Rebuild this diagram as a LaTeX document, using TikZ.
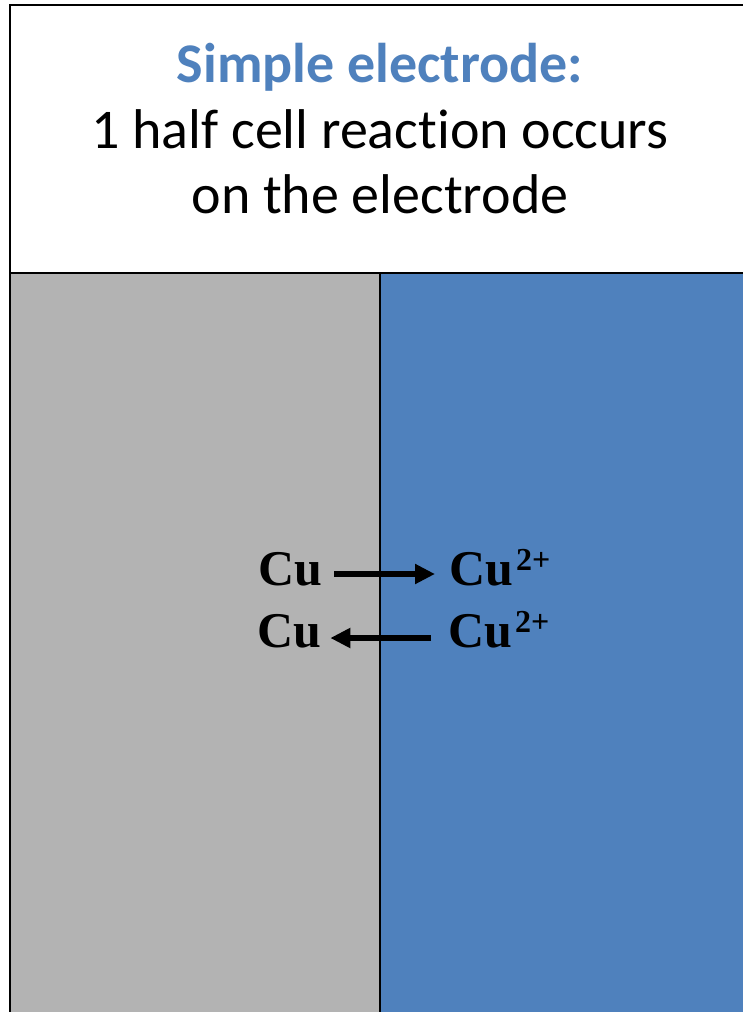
\documentclass[tikz,border=0pt]{standalone}
\usepackage{fontspec}
\usepackage{xcolor}
\setmainfont{Carlito}[Ligatures={NoCommon}]
\newfontfamily\timesbf{Liberation Serif}[UprightFont=* Bold]
\definecolor{electrodegray}{HTML}{B3B3B3}
\definecolor{solutionblue}{HTML}{4F81BD}
\usetikzlibrary{arrows.meta}
\newcommand{\ioncharge}[1]{\kern3pt\raisebox{15pt}{\fontsize{32}{32}\selectfont #1}}

\begin{document}
\begin{tikzpicture}[x=1pt, y=-1pt,
  species/.style={inner sep=0pt, font=\timesbf\fontsize{50}{52}\selectfont},
  rxnarrow/.style={line width=5.5pt, -{Triangle[length=20pt, width=19pt]}}]
  \useasboundingbox (0,0) rectangle (743,1012);
  \clip (0,0) rectangle (743,1012);
  % kop
  \draw[line width=1.6pt, fill=white] (10,5) rectangle (760,273);
  \node[anchor=base, text=solutionblue, font=\bfseries\fontsize{56}{66}\selectfont]
    (title) at (380,82) {Simple electrode:};
  \node[anchor=base, font=\fontsize{56}{66}\selectfont] (line1) at (380,148)
    {1 half cell reaction occurs};
  \node[anchor=base, font=\fontsize{56}{66}\selectfont] (line2) at (380,213)
    {on the electrode};
  % elektrode en oplossing
  \draw[line width=1.6pt, fill=electrodegray] (10,273) rectangle (380,1030);
  \draw[line width=1.6pt, fill=solutionblue] (380,273) rectangle (760,1030);
  % halfreactie
  \node[species, anchor=base west] (cuA) at (258,585) {Cu};
  \node[species, anchor=base west] (ionA) at (449,585) {Cu\ioncharge{2+}};
  \node[species, anchor=base west] (cuB) at (257,647) {Cu};
  \node[species, anchor=base west] (ionB) at (448,647) {Cu\ioncharge{2+}};
  \draw[rxnarrow] ([xshift=12pt, yshift=11pt]cuA.base east)
    -- ([xshift=-14pt, yshift=11pt]ionA.base west);
  \draw[rxnarrow] ([xshift=-17pt, yshift=9pt]ionB.base west)
    -- ([xshift=9pt, yshift=9pt]cuB.base east);
\end{tikzpicture}
\end{document}
